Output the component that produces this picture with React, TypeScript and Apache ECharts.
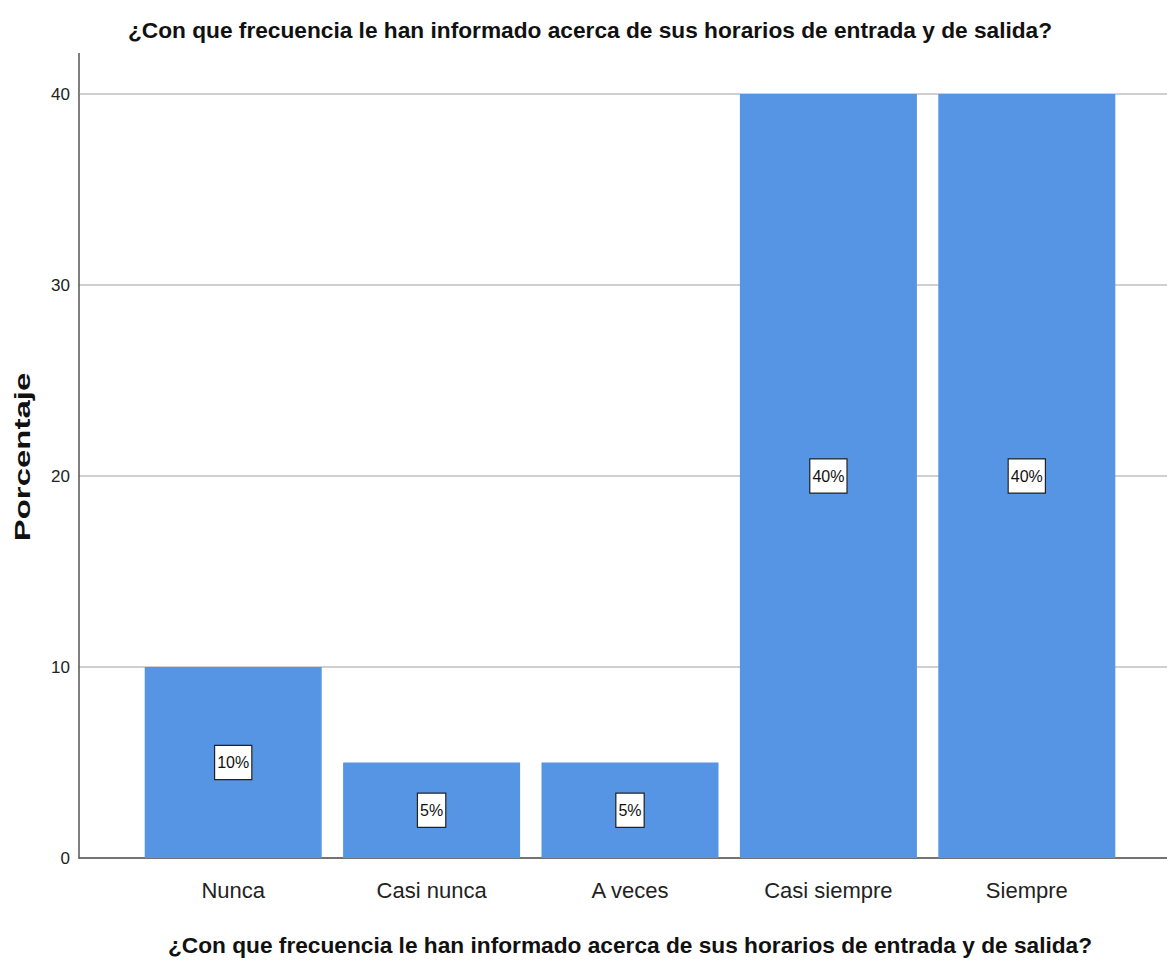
import React, { useEffect, useRef } from "react";
import * as echarts from "echarts";

const chartTitle = "¿Con que frecuencia le han informado acerca de sus horarios de entrada y de salida?";
const categories = ["Nunca", "Casi nunca", "A veces", "Casi siempre", "Siempre"];
const percentages = [10, 5, 5, 40, 40];
const yAxisName = "Porcentaje";
const yMin = 0;
const yMax = 40;
const yInterval = 10;

const SANS = "'Liberation Sans', Arial, sans-serif";

export default function App() {
  const ref = useRef<HTMLDivElement>(null);
  useEffect(() => {
    document.body.style.margin = "0";
    const chart = echarts.init(ref.current!, null, { renderer: "svg" });
    chart.setOption({
      animation: false,
      backgroundColor: "#ffffff",
      grid: [
        { left: 79, right: 0, top: 94, bottom: 113 },
        { left: 134, right: 41, top: 94, bottom: 113 },
      ],
      xAxis: [
        {
          gridIndex: 0,
          type: "value",
          min: 0,
          max: 1,
          axisLine: { show: true, onZero: false, lineStyle: { color: "#555555", width: 1.5 } },
          axisTick: { show: false },
          axisLabel: { show: false },
          splitLine: { show: false },
        },
        {
          gridIndex: 1,
          type: "category",
          data: categories,
          axisLine: { show: false },
          axisTick: { show: false },
          axisLabel: { fontSize: 22, fontFamily: SANS, color: "#222222", margin: 21 },
        },
      ],
      yAxis: [
        {
          gridIndex: 0,
          type: "value",
          min: yMin,
          max: yMax,
          interval: yInterval,
          axisLine: { show: true, lineStyle: { color: "#555555", width: 1.5 } },
          axisTick: { show: false },
          axisLabel: { fontSize: 17, fontFamily: SANS, color: "#222222", margin: 9 },
          splitLine: { show: true, lineStyle: { color: "#d0d0d0", width: 2 } },
        },
        { gridIndex: 1, type: "value", min: yMin, max: yMax, show: false },
      ],
      series: [
        {
          type: "bar",
          xAxisIndex: 1,
          yAxisIndex: 1,
          data: percentages,
          barWidth: 177,
          itemStyle: { color: "#5595e3" },
          label: {
            show: true,
            position: "inside",
            formatter: "{c}%",
            fontSize: 16,
            fontFamily: SANS,
            color: "#111111",
            backgroundColor: "#ffffff",
            borderColor: "#222222",
            borderWidth: 1.2,
            padding: [9, 2, 8, 2],
          },
        },
      ],
      graphic: [
        {
          type: "line",
          shape: { x1: 79, y1: 53, x2: 79, y2: 94 },
          style: { stroke: "#555555", lineWidth: 1.5 },
        },
        {
          type: "text",
          x: 590,
          y: 30,
          style: {
            text: chartTitle,
            font: `bold 22.7px ${SANS}`,
            fill: "#111111",
            textAlign: "center",
            textVerticalAlign: "middle",
          },
        },
        {
          type: "text",
          x: 630,
          y: 945,
          style: {
            text: chartTitle,
            font: `bold 22.7px ${SANS}`,
            fill: "#111111",
            textAlign: "center",
            textVerticalAlign: "middle",
          },
        },
        {
          type: "text",
          x: 23,
          y: 457,
          rotation: Math.PI / 2,
          scaleX: 1.5,
          style: {
            text: yAxisName,
            font: `bold 22px ${SANS}`,
            fill: "#111111",
            textAlign: "center",
            textVerticalAlign: "middle",
          },
        },
      ],
    });
    return () => chart.dispose();
  }, []);
  return <div ref={ref} style={{ width: 1167, height: 971 }} />;
}
